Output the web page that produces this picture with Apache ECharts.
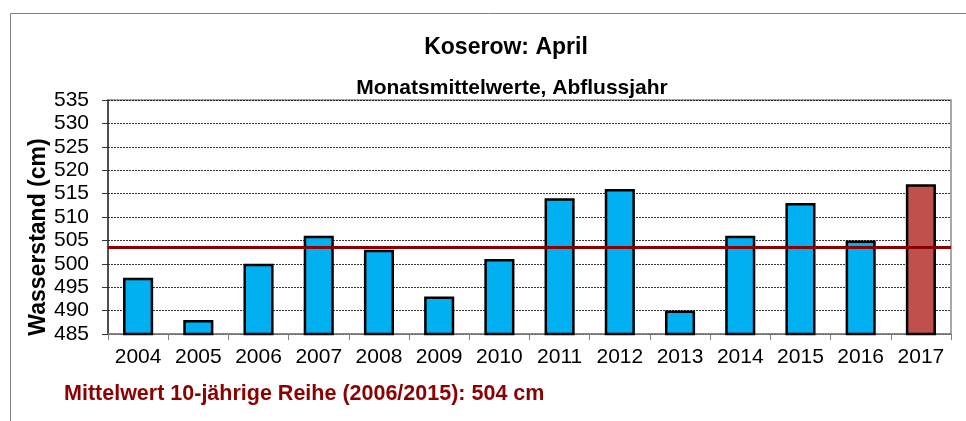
<!DOCTYPE html>
<html><head><meta charset="utf-8">
<script src="https://cdn.jsdelivr.net/npm/echarts@6/dist/echarts.min.js"></script>
<style>html,body{margin:0;padding:0;background:#fff}#c{width:966px;height:421px}</style>
</head><body><div id="c"></div>
<script>
const years = ['2004','2005','2006','2007','2008','2009','2010','2011','2012','2013','2014','2015','2016','2017'];
const values = [497, 488, 500, 506, 503, 493, 501, 514, 516, 490, 506, 513, 505, 517];
const meanValue = 503.6;
const titleText = 'Koserow: April';
const subtitleText = 'Monatsmittelwerte, Abflussjahr';
const footerText = 'Mittelwert 10-jährige Reihe (2006/2015): 504 cm';
const yAxisName = 'Wasserstand (cm)';
const yMin = 485, yMax = 535, yStep = 5;

const FONT = '"Liberation Sans", Arial, sans-serif';
const chart = echarts.init(document.getElementById('c'));
chart.setOption({
  animation: false,
  backgroundColor: '#fff',
  title: [
    {text: titleText, left: 501, top: 31, textAlign: 'center',
     textStyle: {fontFamily: FONT, fontWeight: 'bold', fontSize: 23, color: '#000'}},
    {text: subtitleText, left: 507, top: 73, textAlign: 'center',
     textStyle: {fontFamily: FONT, fontWeight: 'bold', fontSize: 21, color: '#000'}}
  ],
  graphic: [
    {type: 'rect', shape: {x: 10.5, y: 13.5, width: 1000, height: 500},
     style: {fill: 'none', stroke: '#7f7f7f', lineWidth: 1}, silent: true},
    {type: 'text', left: 64, top: 383,
     style: {text: footerText, fontFamily: FONT, fontWeight: 'bold', fontSize: 21.5, fill: '#8B0000'}},
    {type: 'text', x: 39, y: 237, rotation: Math.PI / 2,
     style: {text: yAxisName, fontFamily: FONT, fontWeight: 'bold', fontSize: 23, fill: '#000',
             align: 'center', verticalAlign: 'middle'}}
  ],
  grid: {left: 108, right: 15, top: 100, bottom: 87, show: true, borderColor: '#8c8c8c', borderWidth: 1.5},
  xAxis: {
    type: 'category', data: years,
    axisLine: {lineStyle: {color: '#7f7f7f', width: 1.5}},
    axisTick: {show: true, inside: false, length: 6, lineStyle: {color: '#7f7f7f'}},
    axisLabel: {fontFamily: FONT, fontSize: 21, color: '#000', margin: 13, interval: 0}
  },
  yAxis: {
    type: 'value', min: yMin, max: yMax, interval: yStep,
    axisLine: {show: true, lineStyle: {color: '#333', width: 1.5}},
    axisTick: {show: true, length: 6, lineStyle: {color: '#333'}},
    axisLabel: {fontFamily: FONT, fontSize: 21, color: '#000', margin: 19},
    splitLine: {show: true, lineStyle: {color: '#000', type: [2, 1], width: 0.8}}
  },
  series: [{
    type: 'bar', data: values.map((v, i) => ({value: v,
      itemStyle: {color: i === values.length - 1 ? '#C0504D' : '#00B0F0'}})),
    barWidth: '50%',
    itemStyle: {borderColor: '#000', borderWidth: 2.5},
    markLine: {symbol: 'none', silent: true, label: {show: false},
      lineStyle: {color: '#8B0000', width: 3, type: 'solid'},
      data: [{yAxis: meanValue}]}
  }]
});
</script></body></html>
